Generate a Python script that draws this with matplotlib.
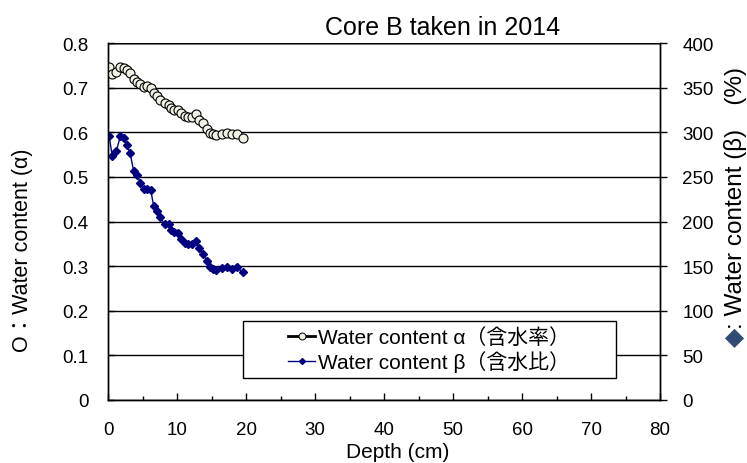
import matplotlib
matplotlib.use('Agg')
import matplotlib.pyplot as plt
from matplotlib.lines import Line2D
from matplotlib.patches import Rectangle

plt.rcParams['font.family'] = ['Liberation Sans', 'Noto Sans CJK JP', 'DejaVu Sans']

# depth (cm)
depth = [0.15, 0.63, 1.2, 1.8, 2.3, 2.7, 3.2, 3.7, 4.2, 4.7, 5.2, 5.7, 6.2, 6.6,
         7.1, 7.6, 8.2, 8.8, 9.2, 9.6, 10.2, 10.6, 11.1, 11.6, 12.1, 12.8, 13.2,
         13.8, 14.3, 14.8, 15.2, 15.7, 16.5, 17.2, 17.9, 18.7, 19.5]
# water content alpha (-)
alpha = [0.747, 0.730, 0.736, 0.747, 0.745, 0.740, 0.734, 0.719, 0.713, 0.708,
         0.702, 0.704, 0.700, 0.689, 0.682, 0.672, 0.665, 0.661, 0.654, 0.650,
         0.650, 0.643, 0.637, 0.635, 0.635, 0.641, 0.628, 0.620, 0.608, 0.598,
         0.596, 0.594, 0.596, 0.598, 0.596, 0.596, 0.588]
# water content beta (%)
beta = [296, 273, 279, 296, 294, 286, 277, 257, 252, 243, 237, 237, 235, 218,
        212, 205, 197, 197, 191, 188, 187, 181, 176, 175, 175, 178, 170, 164,
        156, 149, 147, 146, 148, 149, 147, 149, 143]

x_ticks = list(range(0, 81, 10))
left_ticks = [i / 10 for i in range(9)]
left_labels = ['0'] + ['%.1f' % v for v in left_ticks[1:]]
right_ticks = list(range(0, 401, 50))

fig = plt.figure(figsize=(7.47, 4.64), dpi=100)
ax = fig.add_axes([0.1446, 0.1358, 0.739, 0.769])
ax2 = ax.twinx()

ax.plot(depth, alpha, '-o', color='black', lw=1, ms=6.5,
        mfc='#F0F0E4', mec='black', mew=0.8, zorder=3)
ax2.plot(depth, beta, '-D', color='#000080', lw=1, ms=3.6,
         mfc='#000080', mec='#000080')

ax.set_xlim(0, 80)
ax.set_ylim(0, 0.8)
ax2.set_ylim(0, 400)
ax.set_xticks(x_ticks)
ax.set_xticks(range(5, 80, 10), minor=True)
ax.set_yticks(left_ticks)
ax.set_yticklabels(left_labels)
ax2.set_yticks(right_ticks)
ax.yaxis.grid(True, color='black', lw=1)
ax.set_axisbelow(True)

for a in (ax, ax2):
    for s in a.spines.values():
        s.set_linewidth(1)
    a.spines['top'].set_visible(False)
ax.axhline(0.8, color='#808080', lw=2, zorder=0)

ax.tick_params(axis='x', direction='in', length=5, width=1, labelsize=13.5, pad=15)
ax.tick_params(axis='x', which='minor', direction='in', length=3, width=1)
ax.tick_params(axis='y', direction='in', length=4, width=1, labelsize=13.5, pad=14)
ax2.tick_params(axis='y', direction='out', length=5, width=1, labelsize=13.5, pad=11)

fig.text(398 / 747, 1 - 462 / 464, 'Depth (cm)', fontsize=15, ha='center', va='bottom')
fig.text(0.0295, 0.461, 'O：Water content (α)', fontsize=15.5, rotation=90,
         ha='center', va='center')
fig.text(0.984, 0.272, '◆', color='#2E4A72', fontsize=18, rotation=90,
         ha='center', va='center', family=['DejaVu Sans'])
fig.text(0.984, 0.291, ': Water content (β)　(%)', fontsize=17.5, rotation=90,
         ha='center', va='bottom')

fig.text(0.593, 0.925, 'Core B taken in 2014', fontsize=18, ha='center', va='baseline')

# legend box (drawn separately so the entries sit centred in a wider frame)
ax2.add_patch(Rectangle((0.245, 0.062), 0.675, 0.159, transform=ax2.transAxes,
                        facecolor='white', edgecolor='black', lw=1, zorder=4))
h1 = Line2D([], [], color='black', lw=2, marker='o', ms=5, mfc='#F0F0E4', mec='black', mew=0.7)
h2 = Line2D([], [], color='#000080', lw=1, marker='D', ms=3, mfc='#000080', mec='#000080')
leg = ax2.legend([h1, h2], ['Water content α（含水率）', 'Water content β（含水比）'],
                 loc='center', bbox_to_anchor=(0.582, 0.1415), fontsize=15,
                 frameon=False, handlelength=1.3, handletextpad=0.15,
                 borderpad=0, labelspacing=0.15)
leg.set_zorder(5)

fig.savefig('out.png', dpi=100)
